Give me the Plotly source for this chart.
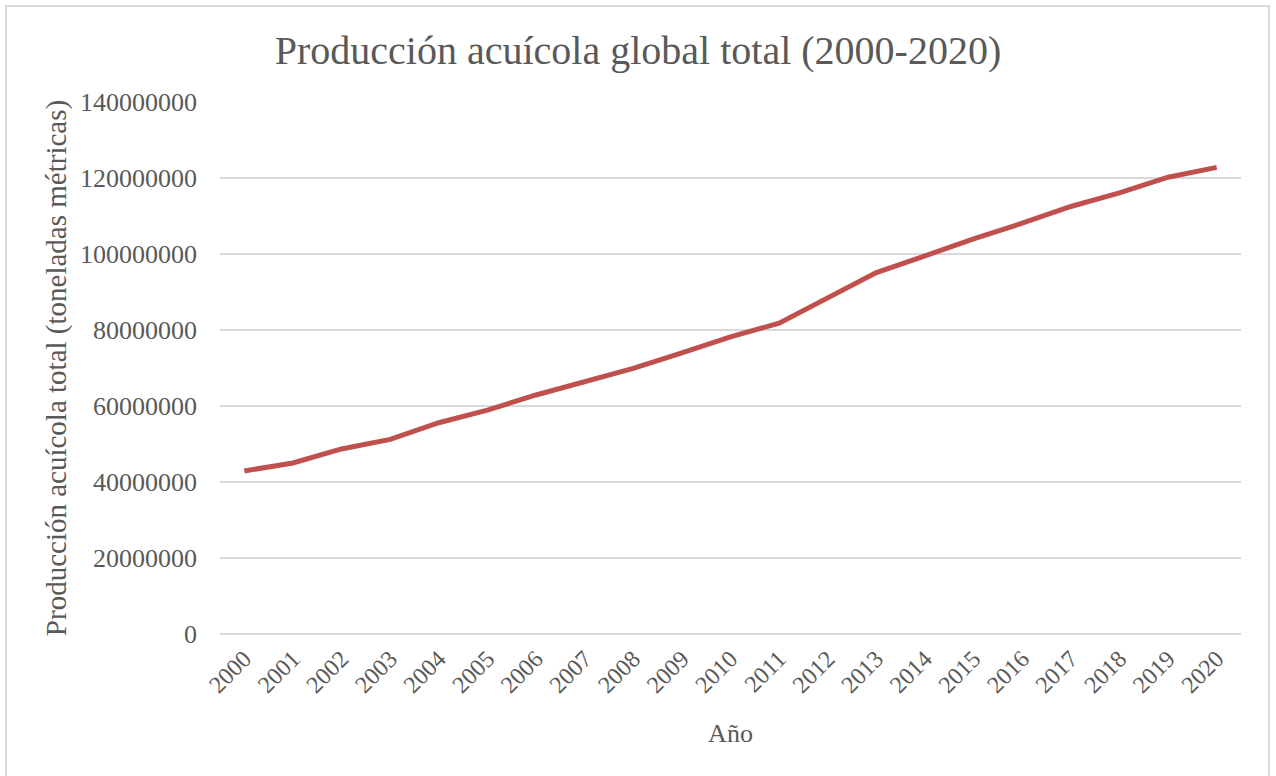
import plotly.graph_objects as go

# Global aquaculture production by year (metric tonnes)
years = [str(y) for y in range(2000, 2021)]
production = [
    42900000, 45000000, 48700000, 51200000, 55600000, 58900000, 62900000,
    66400000, 69900000, 74000000, 78200000, 81800000, 88300000, 95100000,
    99500000, 104000000, 108100000, 112500000, 116100000, 120200000, 122800000,
]
y_ticks = [0, 20000000, 40000000, 60000000, 80000000, 100000000, 120000000, 140000000]
y_tick_labels = [str(v) for v in y_ticks]

W, H = 1276, 776
ML, MR, MT, MB = 220, 35, 102, 142
FONT = "Liberation Serif"
GREY = "#595959"
GRID = "#D9D9D9"

fig = go.Figure()
fig.add_trace(go.Scatter(
    x=years, y=production, mode="lines",
    line=dict(color="#C0504D", width=5),
    hoverinfo="x+y", showlegend=False,
))

def px_x(p):
    return (p - ML) / (W - ML - MR)

def px_y(p):
    return (H - MB - p) / (H - MT - MB)

# light chart-area outline
fig.add_shape(type="rect", xref="paper", yref="paper",
              x0=px_x(6), x1=px_x(1269), y0=px_y(6), y1=px_y(790),
              line=dict(color=GRID, width=2), layer="below")

fig.update_layout(
    width=W, height=H,
    margin=dict(l=ML, r=MR, t=MT, b=MB, pad=0),
    paper_bgcolor="white", plot_bgcolor="white",
    font=dict(family=FONT, color=GREY),
    title=dict(text="Producción acuícola global total (2000-2020)",
               x=0.5, xref="container", xanchor="center",
               y=1 - 50 / H, yref="container", yanchor="middle",
               font=dict(family=FONT, size=40, color=GREY)),
    xaxis=dict(
        type="category", range=[-0.5, 20.5],
        tickangle=-45, tickfont=dict(size=24, color=GREY),
        ticklabelstandoff=5,
        showgrid=False, showline=False, ticks="", zeroline=False,
        title=dict(text="Año", font=dict(size=26, color=GREY), standoff=26),
    ),
    yaxis=dict(
        range=[0, 140000000], tickvals=y_ticks, ticktext=y_tick_labels,
        tickfont=dict(size=26, color=GREY), ticklabelstandoff=22,
        showgrid=True, gridcolor=GRID, gridwidth=1.5,
        zeroline=True, zerolinecolor=GRID, zerolinewidth=1.5,
        showline=False, ticks="",
        title=dict(text="Producción acuícola total (toneladas métricas)",
                   font=dict(size=29, color=GREY), standoff=4),
    ),
)

fig.write_html("out.html")
